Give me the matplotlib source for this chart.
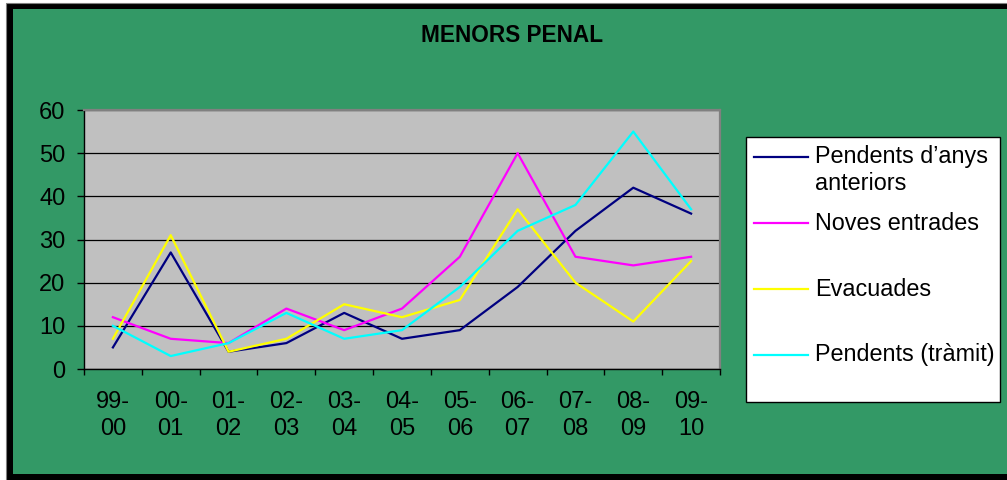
import matplotlib
matplotlib.use("Agg")
import matplotlib.pyplot as plt
from matplotlib.patches import Rectangle
from matplotlib.lines import Line2D

plt.rcParams["font.family"] = ["Liberation Sans", "DejaVu Sans"]

seasons = ["99-\n00", "00-\n01", "01-\n02", "02-\n03", "03-\n04", "04-\n05",
           "05-\n06", "06-\n07", "07-\n08", "08-\n09", "09-\n10"]
pendents_anteriors = [5, 27, 4, 6, 13, 7, 9, 19, 32, 42, 36]
noves_entrades = [12, 7, 6, 14, 9, 14, 26, 50, 26, 24, 26]
evacuades = [7, 31, 4, 7, 15, 12, 16, 37, 20, 11, 25]
pendents_tramit = [10, 3, 6, 13, 7, 9, 19, 32, 38, 55, 37]

series_names = ["Pendents d\u2019anys\nanteriors", "Noves entrades",
                "Evacuades", "Pendents (tr\u00e0mit)"]
series_colors = ["#000080", "#FF00FF", "#FFFF00", "#00FFFF"]
series_values = [pendents_anteriors, noves_entrades, evacuades, pendents_tramit]

W, H = 1007, 480
fig = plt.figure(figsize=(W / 100, H / 100), dpi=100)
fig.patch.set_facecolor("white")

# outer black frame + green chart area
fig.add_artist(Rectangle((6 / W, -0.05), 1.1, (477 + 24) / H,
                         transform=fig.transFigure, facecolor="black",
                         edgecolor="#808080", lw=0.8, zorder=0))
fig.add_artist(Rectangle((13 / W, 6 / H), 1.1, 465 / H,
                         transform=fig.transFigure, facecolor="#339966",
                         edgecolor="none", zorder=0))

ax = fig.add_axes([84 / W, 111 / H, 636 / W, 259 / H])
ax.set_facecolor("#C0C0C0")

x = list(range(len(seasons)))
for vals, col in zip(series_values, series_colors):
    ax.plot(x, vals, color=col, lw=1.6, zorder=3)

ax.set_xlim(-0.5, len(seasons) - 0.5)
ax.set_ylim(0, 60)
ax.set_yticks(range(0, 61, 10))
ax.yaxis.grid(True, color="black", lw=0.9)
ax.set_axisbelow(True)

ax.set_xticks(x)
ax.set_xticklabels(seasons, linespacing=1.32)
ax.set_xticks([i + 0.5 for i in range(-1, len(seasons))], minor=True)
ax.tick_params(axis="x", which="major", length=0, pad=15.5, labelsize=17)
ax.tick_params(axis="x", which="minor", length=4.5, width=1, color="black")
ax.tick_params(axis="y", length=5, width=1, pad=8.5, labelsize=17)

for side in ["top", "right"]:
    ax.spines[side].set_color("#808080")
    ax.spines[side].set_linewidth(1.6)
for side in ["left", "bottom"]:
    ax.spines[side].set_color("black")
    ax.spines[side].set_linewidth(1.0)

fig.text(512 / W, 1 - 35 / H, "MENORS PENAL", ha="center", va="center",
         fontsize=16.3, fontweight="bold")

# legend box drawn like the Excel one
fig.add_artist(Rectangle((746 / W, 1 - 402 / H), 254 / W, 265 / H,
                         transform=fig.transFigure, facecolor="white",
                         edgecolor="black", lw=1.0, zorder=1))
for k, (name, col) in enumerate(zip(series_names, series_colors)):
    ly = 157 + 66 * k
    fig.add_artist(Line2D([754 / W, 808 / W], [1 - ly / H, 1 - ly / H],
                          transform=fig.transFigure, color=col, lw=1.6,
                          zorder=2))
    for j, part in enumerate(name.split("\n")):
        fig.text(815 / W, 1 - (ly + 26 * j) / H, part, ha="left",
                 va="center", fontsize=16.8)

fig.savefig("out.png", dpi=100)
